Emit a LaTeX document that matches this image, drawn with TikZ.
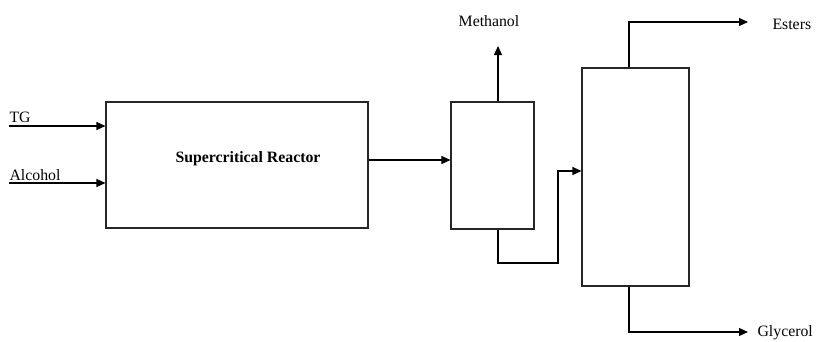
\documentclass[tikz,border=0pt]{standalone}
\usepackage{fontspec}
\setmainfont{Liberation Serif}
\usetikzlibrary{arrows.meta}
\begin{document}
\begin{tikzpicture}[x=1pt,y=-1pt,
  line width=1.1pt,
  box/.style={draw=black!85,line width=1.1pt,inner sep=0pt},
  arr/.style={draw=black,line width=1.1pt,-{Triangle[length=9pt,width=8pt]}},
  plain/.style={draw=black,line width=1.1pt},
  lbl/.style={inner sep=0pt,font=\fontsize{15.8}{19}\selectfont}]
\useasboundingbox (0,0) rectangle (820,341);
% boxes
\node[box,minimum width=262pt,minimum height=126pt] (reactor) at (237,165) {};
\node[lbl,font=\fontsize{15.8}{19}\selectfont\bfseries] (rlabel) at (248,159) {Supercritical Reactor};
\node[box,minimum width=83pt,minimum height=127pt] (sep) at (492.5,165.5) {};
\node[box,minimum width=107pt,minimum height=218pt] (col) at (635.5,177) {};
% coordinates
\coordinate (tgstart) at (9,126);
\coordinate (alcstart) at (9,183);
\coordinate (mtip) at (498,46);
\coordinate (j1) at (558,263);
\coordinate (j2) at (558,171);
\coordinate (ecorner) at (629,22);
\coordinate (etip) at (748,22);
\coordinate (gcorner) at (629,332);
\coordinate (gtip) at (748,332);
% inputs
\draw[arr] (tgstart) -- (tgstart -| reactor.west);
\draw[arr] (alcstart) -- (alcstart -| reactor.west);
\node[lbl,anchor=base west] (tg) at (9,122) {TG};
\node[lbl,anchor=base west] (alc) at (9,180.5) {Alcohol};
% reactor to separator
\draw[arr] ([yshift=5pt]reactor.east) -- ([yshift=5pt]reactor.east -| sep.west);
% methanol
\draw[arr] (mtip |- sep.north) -- (mtip);
\node[lbl] (meth) at (489,21) {Methanol};
% separator to column
\draw[arr] (mtip |- sep.south) -- (mtip |- j1) -- (j1) -- (j2) -- (j2 -| col.west);
% esters
\draw[arr] (ecorner |- col.north) -- (ecorner) -- (etip);
\node[lbl,anchor=west] (est) at (772,24) {Esters};
% glycerol
\draw[arr] (gcorner |- col.south) -- (gcorner) -- (gtip);
\node[lbl,anchor=west] (gly) at (757,333) {Glycerol};
\end{tikzpicture}
\end{document}
